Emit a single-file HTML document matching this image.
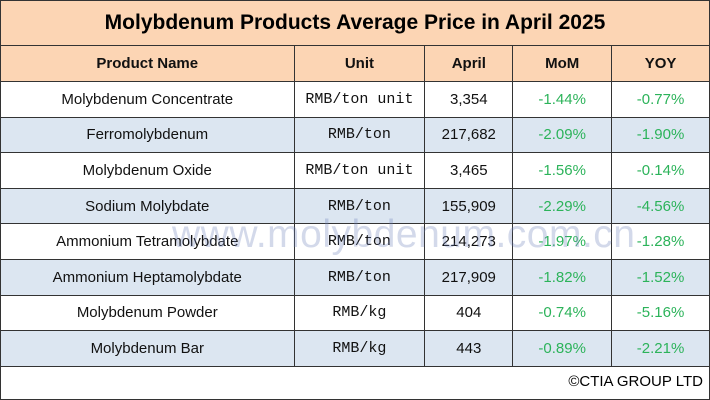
<!DOCTYPE html>
<html><head><meta charset="utf-8"><style>
body{margin:0;width:710px;height:400px;background:#fff;font-family:"Liberation Sans",sans-serif;overflow:hidden}
.b{position:absolute;box-sizing:border-box}
table{position:absolute;left:0;top:45px;border-collapse:collapse;width:710px}
td{border:1.5px solid #333;height:35.6px;padding:0;text-align:center;font-size:15px;color:#111;box-sizing:border-box}
tr.h td{background:#fcd5b4;font-weight:bold;height:36px}
tr.a td{background:#dce6f1}
td.u{font-family:"Liberation Mono",monospace;font-size:15px}
td.g{color:#2cb35a}
</style></head><body>
<div class="b" style="left:0;top:0;width:710px;height:46px;background:#fcd5b4;border:1.5px solid #333;font-weight:bold;font-size:21px;text-align:center;line-height:44px">Molybdenum Products Average Price in April 2025</div>
<table>
<colgroup><col style="width:294px"><col style="width:131px"><col style="width:88px"><col style="width:99px"><col style="width:98px"></colgroup>
<tr class="h"><td>Product Name</td><td>Unit</td><td>April</td><td>MoM</td><td>YOY</td></tr>
<tr><td>Molybdenum Concentrate</td><td class="u">RMB/ton unit</td><td>3,354</td><td class="g">-1.44%</td><td class="g">-0.77%</td></tr>
<tr class="a"><td>Ferromolybdenum</td><td class="u">RMB/ton</td><td>217,682</td><td class="g">-2.09%</td><td class="g">-1.90%</td></tr>
<tr><td>Molybdenum Oxide</td><td class="u">RMB/ton unit</td><td>3,465</td><td class="g">-1.56%</td><td class="g">-0.14%</td></tr>
<tr class="a"><td>Sodium Molybdate</td><td class="u">RMB/ton</td><td>155,909</td><td class="g">-2.29%</td><td class="g">-4.56%</td></tr>
<tr><td>Ammonium Tetramolybdate</td><td class="u">RMB/ton</td><td>214,273</td><td class="g">-1.97%</td><td class="g">-1.28%</td></tr>
<tr class="a"><td>Ammonium Heptamolybdate</td><td class="u">RMB/ton</td><td>217,909</td><td class="g">-1.82%</td><td class="g">-1.52%</td></tr>
<tr><td>Molybdenum Powder</td><td class="u">RMB/kg</td><td>404</td><td class="g">-0.74%</td><td class="g">-5.16%</td></tr>
<tr class="a"><td>Molybdenum Bar</td><td class="u">RMB/kg</td><td>443</td><td class="g">-0.89%</td><td class="g">-2.21%</td></tr>
</table>
<div class="b" style="left:0;top:366px;width:710px;height:34px;border:1.5px solid #333;border-top:none;font-size:15px;text-align:right;padding-right:6px;line-height:32px">©CTIA GROUP LTD</div>
<div class="b" style="left:172px;top:213px;font-size:39px;color:rgba(110,130,185,0.3);font-family:'Liberation Sans',sans-serif;letter-spacing:0.5px">www.molybdenum.com.cn</div>
</body></html>
